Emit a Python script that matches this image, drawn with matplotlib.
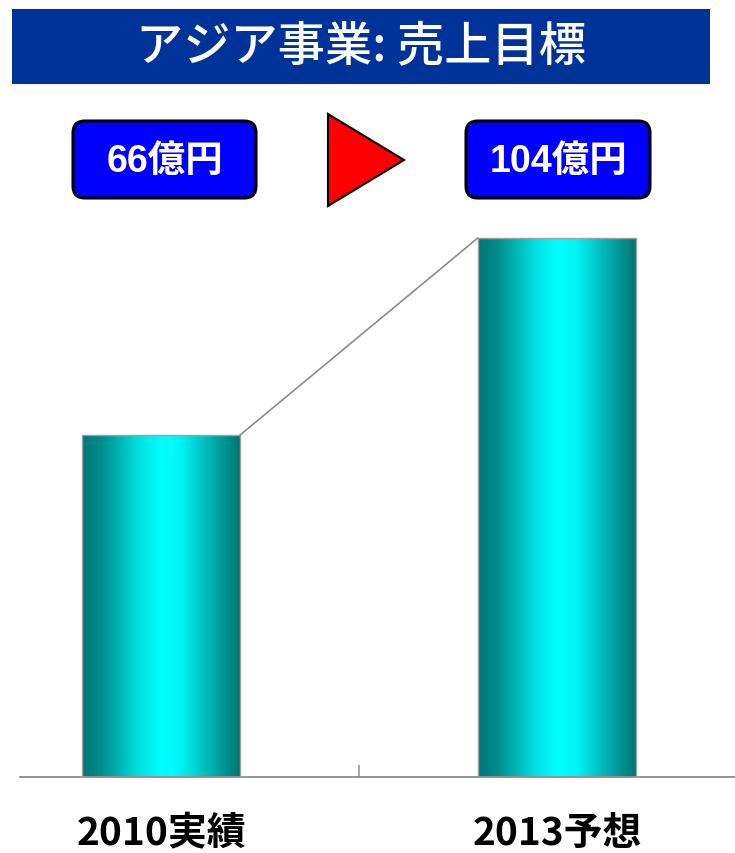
import matplotlib
matplotlib.use("Agg")
import matplotlib.pyplot as plt
import numpy as np
from matplotlib.patches import FancyBboxPatch, Rectangle, Polygon
from matplotlib.colors import LinearSegmentedColormap

plt.rcParams['font.family'] = ['Noto Sans CJK JP', 'DejaVu Sans']

# ---- data ----
title = "アジア事業: 売上目標"
categories = ["2010実績", "2013予想"]
values = [66, 104]
box_labels = ["66億円", "104億円"]

W, H = 735, 854
fig = plt.figure(figsize=(W / 100, H / 100), dpi=100)

def fx(px):
    return px / W

def fy(py):
    return 1 - py / H

# ---- axes ----
ax_left, ax_right = 20, 735
ax_bottom, ax_top = 778, 220
ax = fig.add_axes([fx(ax_left), fy(ax_bottom), fx(ax_right - ax_left), (ax_bottom - ax_top) / H])
for s in ['top', 'right', 'left']:
    ax.spines[s].set_visible(False)
ax.spines['bottom'].set_color('#8c8c8c')
ax.spines['bottom'].set_linewidth(1.3)
ax.set_yticks([])
ax.set_xticks([0.5])
ax.set_xticklabels([])
ax.tick_params(axis='x', direction='in', length=9, width=1.3, color='#a0a0a0')
ax.patch.set_alpha(0)

x = np.arange(len(categories))
width = 0.4
bars = ax.bar(x, values, width=width, facecolor='none', edgecolor='#a0a0a0', linewidth=1.0, zorder=3)

cmap = LinearSegmentedColormap.from_list(
    'cyl', [(0.0, '#007878'), (0.12, '#008c8c'), (0.35, '#00dede'), (0.5, '#00ffff'),
            (0.62, '#00f4f4'), (0.85, '#00a4a4'), (1.0, '#007272')])
grad = np.linspace(0, 1, 256).reshape(1, -1)
for b in bars:
    x0 = b.get_x()
    im = ax.imshow(grad, cmap=cmap, aspect='auto', extent=(x0, x0 + b.get_width(), 0, b.get_height()),
                   zorder=2, interpolation='bilinear')
    im.set_clip_path(b)
ax.set_xlim(-0.3561, 1.4495)
ax.set_ylim(0, (ax_bottom - ax_top) / (539 / 104))

# connector line
ax.plot([x[0] + width / 2, x[1] - width / 2], [values[0], values[1]], color='#8c8c8c', lw=1.2, zorder=4)

# category labels
for xi, lab in zip(x, categories):
    ax.annotate(lab, xy=(xi, 0), xycoords=('data', 'axes fraction'), xytext=(0, -40),
                textcoords='offset points', ha='center', va='center', fontsize=28,
                fontweight='bold', color='black')

# ---- title banner ----
fig.patches.append(Rectangle((fx(12), fy(85)), fx(710 - 12), (85 - 10) / H,
                             transform=fig.transFigure, facecolor='#003399', edgecolor='none'))
fig.text(fx(361), fy(48), title, ha='center', va='center', fontsize=34, color='white',
         fontweight='medium')

# ---- value boxes ----
box_x = [(73, 256), (466, 650)]
for (l, r), lab in zip(box_x, box_labels):
    t, bt = 122, 199
    fig.patches.append(FancyBboxPatch((fx(l), fy(bt)), fx(r - l), (bt - t) / H,
                                      boxstyle="round,pad=0,rounding_size=0.016",
                                      transform=fig.transFigure, facecolor='#0000ff',
                                      edgecolor='black', linewidth=2.2,
                                      mutation_aspect=W / H))
    fig.text(fx((l + r) / 2), fy((t + bt) / 2 + 1), lab, ha='center', va='center', fontsize=27,
             fontweight='bold', color='white',
             family=['Liberation Sans', 'Noto Sans CJK JP'])

# ---- red arrow triangle ----
tri = [(fx(328), fy(115)), (fx(328), fy(207)), (fx(404), fy(161))]
fig.patches.append(Polygon(tri, closed=True, transform=fig.transFigure, facecolor='#ff0000',
                           edgecolor='black', linewidth=1.5))

fig.savefig('out.png', dpi=100)
